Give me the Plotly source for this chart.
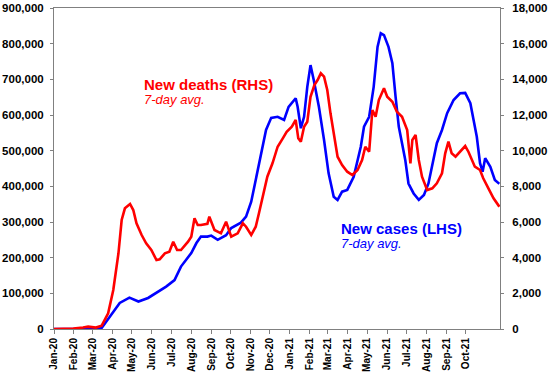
import pandas as pd
import plotly.graph_objects as go

# Days since 2020-01-01 and 7-day average values
case_days = [0, 60, 74, 102, 117, 131, 146, 159, 174, 187, 197, 213, 221, 228, 238, 244, 254,
             267, 275, 290, 298, 306, 313, 321, 329, 337, 347, 357, 364, 375, 378, 383, 388,
             393, 398, 403, 411, 419, 426, 434, 440, 447, 455, 465, 476, 481, 489, 496, 502,
             507, 512, 519, 525, 530, 535, 540, 545, 550, 558, 566, 574, 581, 589, 594, 602,
             610, 620, 630, 638, 646, 651, 656, 661, 665, 669, 677, 684, 691]
cases = [0, 500, 3000, 73000, 88000, 77000, 87000, 101000, 119000, 137000, 175000, 213000,
         241000, 259000, 259000, 262000, 250000, 263000, 283000, 298000, 315000, 357000,
         418000, 493000, 558000, 592000, 595000, 586000, 623000, 647000, 623000, 563000,
         595000, 679000, 740000, 698000, 623000, 530000, 437000, 371000, 362000, 385000,
         390000, 427000, 511000, 567000, 595000, 679000, 791000, 829000, 824000, 791000,
         745000, 651000, 567000, 521000, 474000, 408000, 380000, 362000, 376000, 408000,
         474000, 521000, 558000, 605000, 642000, 661000, 662000, 633000, 586000, 539000,
         465000, 441000, 479000, 455000, 418000, 407000]

death_days = [0, 30, 45, 53, 65, 74, 84, 92, 100, 105, 110, 118, 123, 128, 136, 143, 151, 159,
              164, 172, 179, 185, 191, 197, 208, 213, 218, 223, 228, 238, 241, 249, 259, 267,
              275, 285, 293, 298, 306, 313, 318, 324, 331, 339, 347, 355, 361, 369, 375, 379,
              383, 388, 393, 398, 404, 409, 414, 419, 424, 429, 434, 440, 447, 455, 463, 471,
              478, 483, 489, 494, 499, 504, 512, 517, 525, 532, 540, 548, 553, 556, 561, 566,
              571, 579, 587, 594, 602, 607, 612, 617, 623, 630, 638, 643, 648, 653, 661, 666,
              674, 682, 691]
deaths = [0, 20, 80, 130, 80, 185, 880, 2187, 4245, 6112, 6767, 7009, 6672, 5926, 5270, 4805,
          4430, 3869, 3907, 4245, 4334, 4895, 4430, 4430, 4895, 5175, 6206, 5831, 5831, 5900,
          6297, 5551, 5366, 6018, 5175, 5366, 5926, 5736, 5270, 5736, 6487, 7418, 8539, 9291,
          10222, 10692, 11062, 11343, 11719, 10692, 10505, 11343, 11624, 13025, 13681, 13961,
          14337, 14150, 13400, 12094, 10973, 9660, 9196, 8820, 8635, 8915, 9476, 10222, 9941,
          12280, 11904, 12840, 13496, 13025, 12745, 12184, 11904, 11158, 9291, 10598, 10878,
          9476, 8539, 7794, 7889, 8169, 8730, 9851, 10505, 9851, 9660, 9941, 10260, 9941, 9476,
          9100, 8915, 8449, 7889, 7328, 6857]

tick_dates = pd.date_range("2020-01-01", "2021-10-01", freq="MS")
tick_labels = [d.strftime("%b-%y") for d in tick_dates]
left_ticks = list(range(0, 900001, 100000))
right_ticks = list(range(0, 18001, 2000))

start = pd.Timestamp("2020-01-01")
case_dates = [start + pd.Timedelta(days=d) for d in case_days]
death_dates = [start + pd.Timedelta(days=d) for d in death_days]

FONT = "Liberation Sans, Arial, sans-serif"

fig = go.Figure()
fig.add_trace(go.Scatter(x=case_dates, y=cases, mode="lines", name="New cases (LHS)",
                         line=dict(color="rgb(0,0,255)", width=2.6), yaxis="y"))
fig.add_trace(go.Scatter(x=death_dates, y=deaths, mode="lines", name="New deaths (RHS)",
                         line=dict(color="rgb(255,0,0)", width=2.6), yaxis="y2"))

axis_font = dict(family=FONT, size=11.5, color="black")
fig.update_layout(
    width=548, height=379,
    margin=dict(l=54, r=48, t=8, b=50, autoexpand=False),
    paper_bgcolor="white", plot_bgcolor="white",
    showlegend=False,
    font=dict(family=FONT),
    xaxis=dict(
        type="date", range=[start, pd.Timestamp("2021-11-23")],
        tickmode="array", tickvals=list(tick_dates), ticktext=[f"<b>{t}</b>" for t in tick_labels],
        tickangle=-90, ticks="outside", ticklen=4, tickcolor="#808080",
        tickfont=dict(family=FONT, size=10, color="black"),
        showline=True, linecolor="#808080", linewidth=1, mirror=True,
        showgrid=False, zeroline=False,
    ),
    yaxis=dict(
        range=[0, 900000], tickmode="array", tickvals=left_ticks,
        ticktext=[f"<b>{v:,}</b>" for v in left_ticks],
        tickfont=axis_font, ticks="outside", ticklen=3, tickcolor="#808080",
        ticklabelstandoff=4,
        showline=True, linecolor="#808080", linewidth=1,
        showgrid=False, zeroline=False,
    ),
    yaxis2=dict(
        range=[0, 18000], overlaying="y", side="right", tickmode="array",
        tickvals=right_ticks, ticktext=[f"<b>{v:,}</b>" for v in right_ticks],
        tickfont=axis_font, ticks="outside", ticklen=3, tickcolor="#808080",
        ticklabelstandoff=6,
        showline=True, linecolor="#808080", linewidth=1,
        showgrid=False, zeroline=False,
    ),
)

fig.add_annotation(xref="paper", yref="paper", x=0.197, y=0.763, xanchor="left", yanchor="middle",
                   text="<b>New deaths (RHS)</b>", showarrow=False,
                   font=dict(family=FONT, size=15, color="rgb(255,0,0)"))
fig.add_annotation(xref="paper", yref="paper", x=0.197, y=0.716, xanchor="left", yanchor="middle",
                   text="<i>7-day avg.</i>", showarrow=False,
                   font=dict(family=FONT, size=13, color="rgb(255,0,0)"))
fig.add_annotation(xref="paper", yref="paper", x=0.640, y=0.3146, xanchor="left", yanchor="middle",
                   text="<b>New cases (LHS)</b>", showarrow=False,
                   font=dict(family=FONT, size=15, color="rgb(0,0,255)"))
fig.add_annotation(xref="paper", yref="paper", x=0.640, y=0.265, xanchor="left", yanchor="middle",
                   text="<i>7-day avg.</i>", showarrow=False,
                   font=dict(family=FONT, size=13, color="rgb(0,0,255)"))

fig.write_html("out.html", config={"displayModeBar": False},
               post_script="document.body.style.margin='0';document.body.style.overflow='hidden';")
